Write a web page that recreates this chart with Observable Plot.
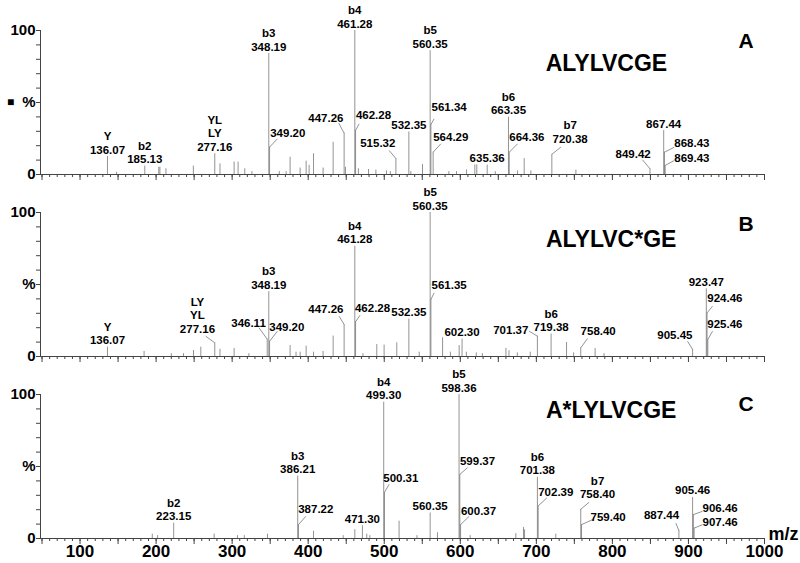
<!DOCTYPE html>
<html><head><meta charset="utf-8">
<script src="https://cdn.jsdelivr.net/npm/d3@7"></script>
<script src="https://cdn.jsdelivr.net/npm/@observablehq/plot@0.6"></script>
<style>html,body{margin:0;padding:0;background:#fff;} #chart svg{display:block}</style>
</head><body><div id="chart"></div>
<script>
// ---------------- DATA ----------------
const panels = ["A", "B", "C"];
const titles = ["ALYLVCGE", "ALYLVC*GE", "A*LYLVCGE"];
const xTickLabels = [100, 200, 300, 400, 500, 600, 700, 800, 900, 1000];

// Panel A: m/z and relative intensity (%)
const mzA  = [136.07,148,185.13,203.5,205,213,249,277.16,284,302.6,307.8,316.6,326,348.19,349.20,362,371,376.2,389.4,397.3,401.2,407,419.6,432.8,447.26,449,461.28,462.28,466,479.3,489,503,508,515.32,532.35,535,550.3,560.35,561.34,564.29,585,595,608.2,619.1,621.7,635.36,646,663.35,664.36,675.3,684,692.8,720.38,752,849.42,867.44,868.43,869.43];
const intA = [12.5,1.5,5.8,5,5,4,5.8,14.4,7.4,8.6,8.6,4,2,84,19,2,2,12,4.5,9.3,6.3,14.4,4.5,22.4,28.7,5,100,30.5,4,3.5,3,2.5,2,11.1,29.5,2,6.9,86,34.7,15.5,2,2,3.2,6.7,6.7,6.5,2,39.8,15.5,2.5,11,2.5,14,3,4,30.5,15.5,6.3];
const labelMzA   = [136.07,185.13,277.16,348.19,349.20,447.26,461.28,462.28,515.32,532.35,560.35,561.34,564.29,635.36,663.35,664.36,720.38,849.42,867.44,868.43,869.43];
const labelTextA = ["Y\n136.07","b2\n185.13","YL\nLY\n277.16","b3\n348.19","349.20","447.26","b4\n461.28","462.28","515.32","532.35","b5\n560.35","561.34","564.29","635.36","b6\n663.35","664.36","b7\n720.38","849.42","867.44","868.43","869.43"];

// Panel B
const mzB  = [136.07,184.2,220,236,249.2,258.8,277.16,284,302.6,322,346.11,348.19,349.20,376.2,384,389.4,397.3,407,419.6,432.8,447.26,461.28,462.28,472,490.2,499.8,516.5,532.35,546,560.35,561.35,576.7,587,598.5,602.30,608,621,629,660,664,675,692,701.37,719.38,739.7,749,758.40,777.3,789,905.45,923.47,924.46,925.46];
const intB = [6.5,3.5,2,2,4.2,6.5,9.5,5,5.6,2,12,45,10.6,7.6,3,3,7.2,3,3.5,14.2,22.2,76.6,24.1,2,8.3,7.9,9.5,26,3,100,39.6,13,3,7.6,12,3,2.5,2,5.6,4,2.5,3,14.1,15.6,9.7,2.5,6,5.5,2,4.9,47,30.3,11.8];
const labelMzB   = [136.07,277.16,346.11,348.19,349.20,447.26,461.28,462.28,532.35,560.35,561.35,602.30,701.37,719.38,758.40,905.45,923.47,924.46,925.46];
const labelTextB = ["Y\n136.07","LY\nYL\n277.16","346.11","b3\n348.19","349.20","447.26","b4\n461.28","462.28","532.35","b5\n560.35","561.35","602.30","701.37","b6\n719.38","758.40","905.45","923.47","924.46","925.46"];

// Panel C
const mzC  = [195,202,223.15,276.3,307,316,346.5,386.21,387.22,407,446,461.3,471.30,477,481,499.30,500.31,519.5,543,560.35,570,598.36,599.37,600.37,613,673,683.1,684.5,701.38,702.39,725.6,758.40,759.40,887.44,905.46,906.46,907.46];
const intC = [3,2,10.7,3,2,2,3,43.4,9.6,5,2,6.1,8.9,3,2,94.6,32,12,2,17.7,4,100,44.5,9.6,2,3.4,7.7,6,42.5,22.6,3,20.3,9.6,5.5,28.5,16.6,7.2];
const labelMzC   = [223.15,386.21,387.22,471.30,499.30,500.31,560.35,598.36,599.37,600.37,701.38,702.39,758.40,759.40,887.44,905.46,906.46,907.46];
const labelTextC = ["b2\n223.15","b3\n386.21","387.22","471.30","b4\n499.30","500.31","560.35","b5\n598.36","599.37","600.37","b6\n701.38","702.39","b7\n758.40","759.40","887.44","905.46","906.46","907.46"];

// ---------------- LAYOUT (label placement in data units) ----------------
// callout: mz -> [label m/z, label %, leader start m/z, leader start %]
const calloutA = new Map([
  [349.20,[373.2,25.7,359.6,24.8]],[447.26,[423.2,36.8,440.2,35.6]],[462.28,[485.9,38.2,467,35.2]],
  [515.32,[491.5,18.8,506.4,16.7]],[561.34,[585.3,44.4,565.6,38.7]],[564.29,[587.5,23.1,574.4,21.3]],
  [664.36,[687.5,23.1,675.3,21.3]],[720.38,[744.4,22,732.2,19]],[849.42,[827.3,11.6,839.6,10.2]],
  [868.43,[904.5,19.2,881.2,18.9]],[869.43,[904.5,8.5,881.2,9.7]]
]);
const calloutB = new Map([
  [277.16,[254.4,16.5,265.3,14.1]],[346.11,[321.5,20.6,335.4,19.9]],[349.20,[371.9,17.6,359.6,17.6]],
  [447.26,[423.2,30.3,440.6,28]],[462.28,[484.6,31,468.3,28.7]],[561.35,[585.3,47.2,565.6,44.2]],
  [701.37,[666.4,15.3,690.5,17.6]],[758.40,[781.3,14.8,767.3,12.5]],[905.45,[882.1,12.5,898.8,10.6]],
  [924.46,[947.9,38,931.7,34.9]],[925.46,[947.9,19.9,931.7,17.6]]
]);
const calloutC = new Map([
  [387.22,[410,17.7,396.9,15.4]],[500.31,[521.8,39.2,506.4,37.6]],[599.37,[622.7,51,609.5,49.2]],
  [600.37,[624,16.6,611.6,15.4]],[702.39,[725.6,29.4,713.8,28.2]],[758.40,[780.5,28.2,769.4,25.2]],
  [759.40,[794.4,11.9,773.9,13.1]],[887.44,[864.6,13.3,883.4,10.7]],[906.46,[941.7,18.4,918.5,18.9]],
  [907.46,[941.7,8.6,918.5,9.6]]
]);
const titlePos  = [[792.2,72.2],[798.4,76.2],[798.4,83.7]];
const letterPos = [[975.9,87.7],[975.9,87],[975.9,88.8]];
const xDomain = [48, 1000];
const yDomain = [0, 100];

// ---------------- BUILD TABLES ----------------
const sets = [
  ["A", mzA, intA, labelMzA, labelTextA, calloutA],
  ["B", mzB, intB, labelMzB, labelTextB, calloutB],
  ["C", mzC, intC, labelMzC, labelTextC, calloutC]
];
const peaks = [], direct = [], callouts = [];
for (const [p, mz, it, lm, lt, co] of sets) {
  mz.forEach((m, i) => peaks.push({panel: p, mz: m, i: it[i]}));
  lm.forEach((m, k) => {
    const i = it[mz.indexOf(m)];
    if (co.has(m)) {
      const [xm, yp, sm, sp] = co.get(m);
      callouts.push({panel: p, mz: m, i, text: lt[k], xm, yp, sm, sp});
    } else {
      direct.push({panel: p, mz: m, i, text: lt[k]});
    }
  });
}
const heads = panels.map((p, k) => ({panel: p, title: titles[k], tx: titlePos[k][0], ty: titlePos[k][1], lx: letterPos[k][0], ly: letterPos[k][1]}));

const axisColor = "#444";
const chart = Plot.plot({
  width: 800, height: 563,
  marginLeft: 40, marginRight: 36, marginTop: 30, marginBottom: 25,
  style: {fontFamily: "'Liberation Sans', Arial, Helvetica, sans-serif", color: "#000", background: "#fff"},
  x: {domain: xDomain},
  y: {domain: yDomain},
  fy: {domain: panels, axis: null, paddingInner: 38 / 182, paddingOuter: 0, round: false},
  marks: [
    Plot.axisX({ticks: d3.range(50, 1001, 10), tickSize: 3, tickFormat: () => "", stroke: axisColor, facetAnchor: null, label: null}),
    Plot.axisX({ticks: d3.range(50, 1001, 50), tickSize: 6, tickFormat: () => "", stroke: axisColor, facetAnchor: null, label: null}),
    Plot.axisX({ticks: xTickLabels, tickSize: 0, tickPadding: 6, tickFormat: d3.format("d"), fontSize: 17, fontWeight: "bold", label: null}),
    Plot.axisY({ticks: d3.range(0, 101, 10), tickSize: 4, tickFormat: () => "", stroke: axisColor, label: null}),
    Plot.axisY({ticks: [0, 100], tickSize: 0, tickPadding: 5, fontSize: 15, fontWeight: "bold", label: null}),
    Plot.ruleY([0], {stroke: axisColor}),
    Plot.ruleX([xDomain[0]], {y1: yDomain[0], y2: yDomain[1], stroke: axisColor}),
    Plot.text(panels, {fy: d => d, frameAnchor: "left", text: () => "%", textAnchor: "end", dx: -5, fontSize: 15, fontWeight: "bold"}),
    Plot.text(["A"], {fy: d => d, frameAnchor: "left", text: () => "\u25A0", textAnchor: "middle", dx: -30, fontSize: 12}),
    Plot.text(["C"], {fy: d => d, frameAnchor: "bottom-right", text: () => "m/z", textAnchor: "start", dx: 4, dy: 1, fontSize: 18, fontWeight: "bold"}),
    Plot.ruleX(peaks, {x: "mz", y1: 0, y2: "i", fy: "panel", stroke: "#777", strokeWidth: 0.8}),
    Plot.link(callouts, {x1: "sm", y1: "sp", x2: "mz", y2: "i", fy: "panel", stroke: "#777", strokeWidth: 0.8}),
    Plot.text(direct, {x: "mz", y: "i", fy: "panel", text: "text", lineAnchor: "bottom", dy: -3, fontSize: 11.5, fontWeight: "bold", lineHeight: 1.16, fill: "#000"}),
    Plot.text(callouts, {x: "xm", y: "yp", fy: "panel", text: "text", lineAnchor: "bottom", fontSize: 11.5, fontWeight: "bold", lineHeight: 1.16, fill: "#000"}),
    Plot.text(heads, {x: "tx", y: "ty", fy: "panel", text: "title", lineAnchor: "bottom", fontSize: 23, fontWeight: "bold"}),
    Plot.text(heads, {x: "lx", y: "ly", fy: "panel", text: "panel", lineAnchor: "bottom", fontSize: 21, fontWeight: "bold"})
  ]
});
document.getElementById("chart").appendChild(chart);
</script></body></html>
